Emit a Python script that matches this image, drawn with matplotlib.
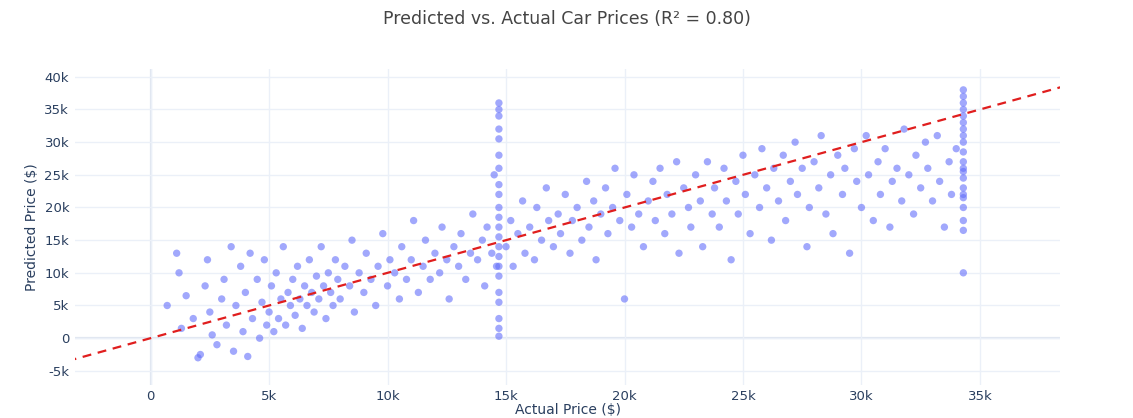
import matplotlib
matplotlib.use("Agg")
import matplotlib.pyplot as plt

# values, in thousands of dollars (actual, predicted)
band_low = [(0.7,5),(1.1,13),(1.2,10),(1.3,1.5),(1.5,6.5),(1.8,3),(2.0,-3),(2.1,-2.5),(2.3,8),(2.4,12),
            (2.5,4),(2.6,0.5),(2.8,-1),(3.0,6),(3.1,9),(3.2,2),(3.4,14),(3.5,-2),(3.6,5),(3.8,11),
            (3.9,1),(4.0,7),(4.1,-2.8),(4.2,13),(4.3,3),(4.5,9),(4.6,0),(4.7,5.5),(4.8,12),(4.9,2)]
band_5_8 = [(5.0,4),(5.1,8),(5.2,1),(5.3,10),(5.4,3),(5.5,6),(5.6,14),(5.7,2),(5.8,7),(5.9,5),
            (6.0,9),(6.1,3.5),(6.2,11),(6.3,6),(6.4,1.5),(6.5,8),(6.6,5),(6.7,12),(6.8,7),(6.9,4),
            (7.0,9.5),(7.1,6),(7.2,14),(7.3,8),(7.4,3),(7.5,10),(7.6,7),(7.7,5),(7.8,12),(7.9,9)]
band_8_13 = [(8.0,6),(8.2,11),(8.4,8),(8.5,15),(8.6,4),(8.8,10),(9.0,7),(9.1,13),(9.3,9),(9.5,5),
             (9.6,11),(9.8,16),(10.0,8),(10.1,12),(10.3,10),(10.5,6),(10.6,14),(10.8,9),(11.0,12),(11.1,18),
             (11.3,7),(11.5,11),(11.6,15),(11.8,9),(12.0,13),(12.2,10),(12.3,17),(12.5,12),(12.6,6),(12.8,14)]
band_13_15 = [(13.0,11),(13.1,16),(13.3,9),(13.5,13),(13.6,19),(13.8,12),(14.0,15),(14.1,8),(14.2,17),
              (14.4,13),(14.5,25),(14.6,11)]
col_147_y = [0.3,1.5,3,5.5,7,9.5,11,12.5,14,15.5,17,18.5,20,22,23.5,26,28,30.5,32,34,35,36]
band_15_21 = [(15.0,14),(15.2,18),(15.3,11),(15.5,16),(15.7,21),(15.8,13),(16.0,17),(16.2,12),(16.3,20),
              (16.5,15),(16.7,23),(16.8,18),(17.0,14),(17.2,19),(17.3,16),(17.5,22),(17.7,13),(17.8,18),
              (18.0,20),(18.2,15),(18.4,24),(18.5,17),(18.7,21),(18.8,12),(19.0,19),(19.2,23),(19.3,16),
              (19.5,20),(19.6,26),(19.8,18),(20.0,6),(20.1,22),(20.3,17),(20.4,25),(20.6,19)]
band_21_25 = [(20.8,14),(21.0,21),(21.2,24),(21.3,18),(21.5,26),(21.7,16),(21.8,22),(22.0,19),(22.2,27),
              (22.3,13),(22.5,23),(22.7,20),(22.8,17),(23.0,25),(23.2,21),(23.3,14),(23.5,27),(23.7,19),
              (23.8,23),(24.0,17),(24.2,26),(24.3,21),(24.5,12),(24.7,24),(24.8,19),(25.0,28),(25.1,22)]
band_25_34 = [(25.3,16),(25.5,25),(25.7,20),(25.8,29),(26.0,23),(26.2,15),(26.3,26),(26.5,21),(26.7,28),
              (26.8,18),(27.0,24),(27.2,30),(27.3,22),(27.5,26),(27.7,14),(27.8,20),(28.0,27),(28.2,23),
              (28.3,31),(28.5,19),(28.7,25),(28.8,16),(29.0,28),(29.2,22),(29.3,26),(29.5,13),(29.7,29),
              (29.8,24),(30.0,20),(30.2,31),(30.3,25),(30.5,18),(30.7,27),(30.8,22),(31.0,29),(31.2,17),
              (31.3,24),(31.5,26),(31.7,21),(31.8,32),(32.0,25),(32.2,19),(32.3,28),(32.5,23),(32.7,30),
              (32.8,26),(33.0,21),(33.2,31),(33.3,24),(33.5,17),(33.7,27),(33.8,22),(34.0,29)]
col_343_y = [10,16.5,18,20,21.5,23,24.5,26,27,28.5,30,31,32,33,34,35,36,37,38,25.5,22]

pts = band_low + band_5_8 + band_8_13 + band_13_15 + band_15_21 + band_21_25 + band_25_34
pts += [(14.7, y) for y in col_147_y] + [(34.3, y) for y in col_343_y]
actual = [p[0] * 1000 for p in pts]
pred = [p[1] * 1000 for p in pts]

fig = plt.figure(figsize=(11.33, 4.18), dpi=100)
ax = fig.add_axes([0.066, 0.08, 0.87, 0.755])
ax.set_facecolor("white")
ax.scatter(actual, pred, s=28, color="#636efa", alpha=0.6, edgecolors="none", zorder=3)
ax.plot([-3500, 38500], [-3500, 38500], color="#e01e1e", ls=(0, (4, 3)), lw=1.6, zorder=4)

ax.set_xlim(-3200, 38400)
ax.set_ylim(-7100, 41200)
xt = list(range(0, 35001, 5000))
yt = list(range(-5000, 40001, 5000))
ax.set_xticks(xt)
ax.set_xticklabels(["0"] + [f"{v//1000}k" for v in xt[1:]])
ax.set_yticks(yt)
ax.set_yticklabels([("0" if v == 0 else f"{v//1000}k") for v in yt])
ax.grid(color="#ebf0f8", lw=1, zorder=0)
ax.axhline(0, color="#dfe6f0", lw=1.6, zorder=1)
ax.axvline(0, color="#dfe6f0", lw=1.6, zorder=1)
for s in ax.spines.values():
    s.set_visible(False)
ax.tick_params(length=0, labelsize=9.5, colors="#2a3f5f", pad=4)
ax.set_xlabel("Actual Price ($)", fontsize=10, color="#2a3f5f", labelpad=0)
ax.set_ylabel("Predicted Price ($)", fontsize=10, color="#2a3f5f")
fig.suptitle("Predicted vs. Actual Car Prices (R² = 0.80)", y=0.975, fontsize=12.5, color="#444444")

fig.savefig("out.png", dpi=100)
